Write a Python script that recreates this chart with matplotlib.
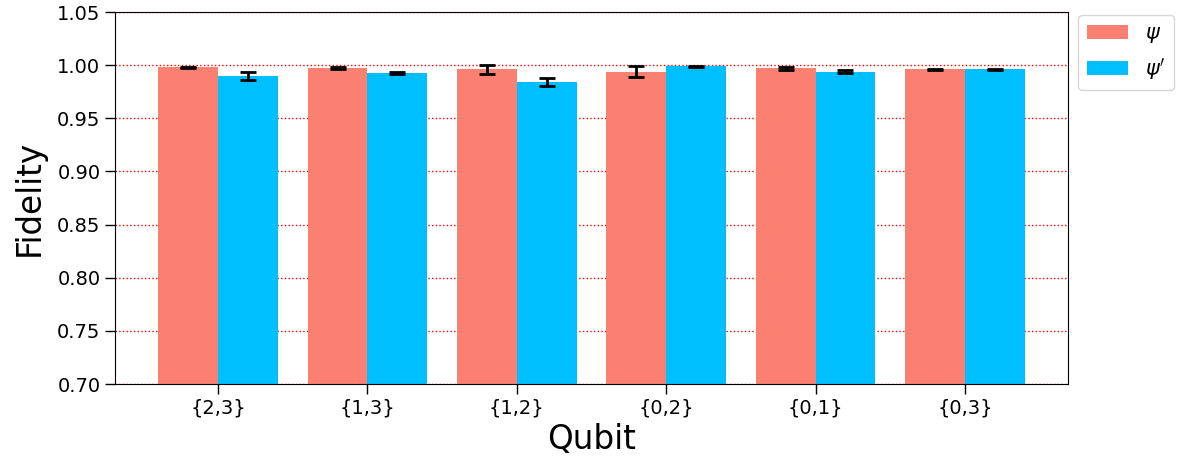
import numpy as np
import matplotlib.pyplot as plt

qubits = ['{2,3}', '{1,3}', '{1,2}', '{0,2}', '{0,1}', '{0,3}']
fid_psi = [0.998, 0.997, 0.996, 0.994, 0.997, 0.996]
err_psi = [0.0006, 0.001, 0.004, 0.005, 0.0012, 0.0005]
fid_psi_p = [0.990, 0.993, 0.984, 0.999, 0.994, 0.996]
err_psi_p = [0.004, 0.001, 0.004, 0.0005, 0.001, 0.0005]

fig = plt.figure(figsize=(11.77, 4.65), dpi=100)
ax = fig.add_axes([115 / 1177, 1 - 384 / 465, (1068 - 115) / 1177, (384 - 12) / 465])

x = np.arange(len(qubits))
w = 0.4
ax.bar(x - w / 2, fid_psi, w, yerr=err_psi, capsize=6, color='salmon',
       label=r'$\psi$', zorder=2, error_kw=dict(elinewidth=2, capthick=2))
ax.bar(x + w / 2, fid_psi_p, w, yerr=err_psi_p, capsize=6, color='deepskyblue',
       label=r"$\psi'$", zorder=2, error_kw=dict(elinewidth=2, capthick=2))

ax.set_ylim(0.70, 1.05)
ax.set_xticks(x)
ax.set_xticklabels(qubits)
ax.tick_params(axis='both', labelsize=14, length=7, width=1)
ax.yaxis.grid(True, color='red', linestyle=':', linewidth=1, zorder=0)
ax.set_axisbelow(True)
ax.set_xlabel('Qubit', fontsize=23.5, labelpad=4)
ax.set_ylabel('Fidelity', fontsize=23.5, labelpad=8)
ax.legend(loc='upper left', bbox_to_anchor=(1.0, 1.02), fontsize=15)

plt.savefig('out.png', dpi=100)
